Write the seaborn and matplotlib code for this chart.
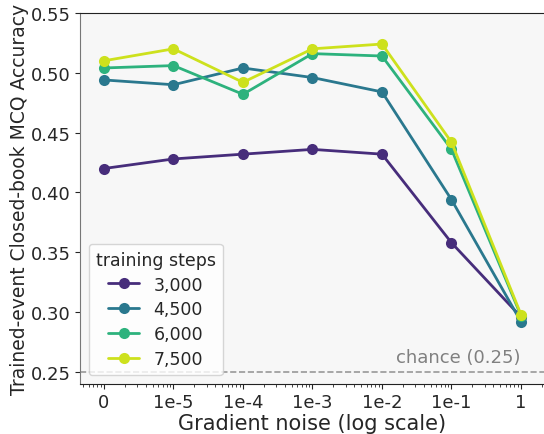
import numpy as np
import pandas as pd
import matplotlib
matplotlib.use("Agg")
import matplotlib.pyplot as plt
import seaborn as sns

# noise levels (0 is drawn at 1e-6 so it fits on the log axis)
noise_labels = ["0", "1e-5", "1e-4", "1e-3", "1e-2", "1e-1", "1"]
noise_values = [1e-6, 1e-5, 1e-4, 1e-3, 1e-2, 1e-1, 1.0]

steps = ["3,000", "4,500", "6,000", "7,500"]
acc_3000 = [0.420, 0.428, 0.432, 0.436, 0.432, 0.358, 0.296]
acc_4500 = [0.494, 0.490, 0.504, 0.496, 0.484, 0.394, 0.292]
acc_6000 = [0.504, 0.506, 0.482, 0.516, 0.514, 0.436, 0.297]
acc_7500 = [0.510, 0.520, 0.492, 0.520, 0.524, 0.442, 0.298]

colors = ["#472d7b", "#2a788e", "#2db27d", "#cde11d"]

rows = []
for s, accs in zip(steps, [acc_3000, acc_4500, acc_6000, acc_7500]):
    for x, a in zip(noise_values, accs):
        rows.append({"noise": x, "acc": a, "training steps": s})
df = pd.DataFrame(rows)

sns.set_style("ticks")
plt.rcParams["font.family"] = ["DejaVu Sans"]

fig = plt.figure(figsize=(5.44, 4.35), dpi=100)
ax = fig.add_axes([0.147, 0.115, 0.853, 0.853])
ax.set_facecolor("#f7f7f7")

sns.lineplot(data=df, x="noise", y="acc", hue="training steps", palette=colors,
             marker="o", markersize=8, markeredgewidth=0, linewidth=2, ax=ax)

ax.axhline(0.25, color="#999999", linestyle="--", linewidth=1.2, zorder=0)
ax.text(1.0, 0.255, "chance (0.25)", ha="right", va="bottom", color="#808080", fontsize=13)

ax.set_xscale("log")
ax.set_xlim(10 ** -6.345, 10 ** 0.331)
ax.set_ylim(0.24, 0.55)
ax.set_xticks(noise_values)
ax.set_xticklabels(noise_labels)
ax.set_yticks([0.25, 0.30, 0.35, 0.40, 0.45, 0.50, 0.55])
ax.set_yticklabels(["0.25", "0.30", "0.35", "0.40", "0.45", "0.50", "0.55"])
ax.tick_params(axis="both", which="major", labelsize=13, direction="out", length=3.5, pad=3)
ax.tick_params(axis="x", which="minor", length=2)

ax.set_xlabel("Gradient noise (log scale)", fontsize=15, labelpad=1.5)
ax.set_ylabel("Trained-event Closed-book MCQ Accuracy", fontsize=13.5, labelpad=1.5)

for side in ["top", "bottom"]:
    ax.spines[side].set_color("#222222")
ax.spines["left"].set_color("#777777")
ax.spines["right"].set_visible(False)

leg = ax.legend(title="training steps", loc="lower left", fontsize=12.5, title_fontsize=12.5,
                frameon=True, fancybox=True, framealpha=0.8, borderpad=0.4,
                labelspacing=0.4, handlelength=1.8)
leg.get_frame().set_edgecolor("#cccccc")

fig.savefig("out.png", dpi=100)
